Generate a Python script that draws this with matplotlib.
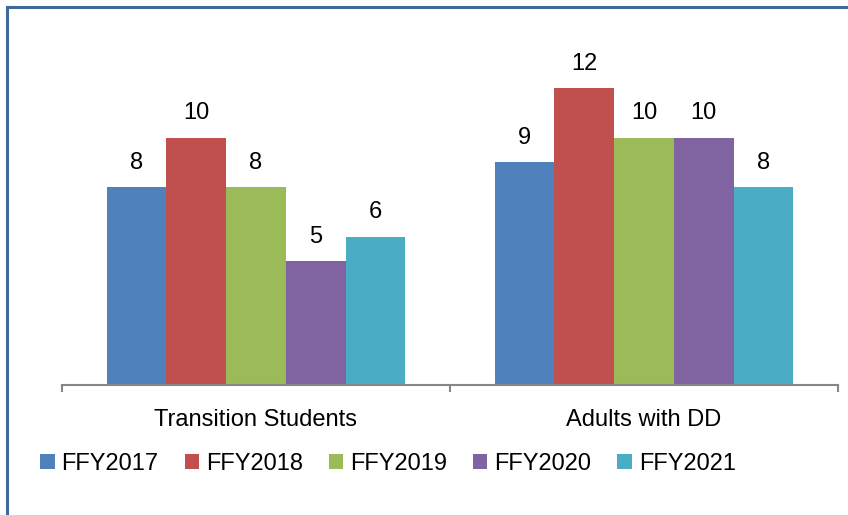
import matplotlib
matplotlib.use("Agg")
import matplotlib.pyplot as plt
from matplotlib.patches import Patch
from matplotlib.lines import Line2D
import numpy as np

plt.rcParams['font.family'] = ['Liberation Sans', 'DejaVu Sans']

categories = ["Transition Students", "Adults with DD"]
years = ["FFY2017", "FFY2018", "FFY2019", "FFY2020", "FFY2021"]
values = {
    "FFY2017": [8, 9],
    "FFY2018": [10, 12],
    "FFY2019": [8, 10],
    "FFY2020": [5, 10],
    "FFY2021": [6, 8],
}
colors = ["#4F81BD", "#C0504D", "#9BBB59", "#8064A2", "#4BACC6"]

fig = plt.figure(figsize=(8.48, 5.15), dpi=100)
ax = fig.add_axes([62 / 848, 1 - 385 / 515, 776 / 848, 346.5 / 515])

x = np.arange(len(categories))
w = 0.154
for i, yr in enumerate(years):
    pos = x + (i - 2) * w
    bars = ax.bar(pos, values[yr], width=w, color=colors[i])
    for xp, v in zip(pos, values[yr]):
        ax.annotate(str(v), (xp, v), xytext=(0, 13), textcoords="offset points",
                    ha="center", va="baseline", fontsize=17)

ax.set_xlim(-0.5, 1.5)
ax.set_ylim(0, 14)
for s in ["left", "right", "top"]:
    ax.spines[s].set_visible(False)
ax.spines["bottom"].set_color("#868686")
ax.spines["bottom"].set_linewidth(1.5)
ax.set_yticks([])
ax.set_xticks([-0.5, 0.5, 1.5])
ax.set_xticklabels([])
ax.tick_params(axis="x", which="major", length=5, width=1.5, color="#868686", direction="out")
ax.set_xticks(x, minor=True)
ax.set_xticklabels(categories, minor=True, fontsize=17)
ax.tick_params(axis="x", which="minor", length=0, pad=17)

handles = [Patch(facecolor=c, edgecolor="none") for c in colors]
fig.legend(handles, years, loc="center", bbox_to_anchor=(388 / 848, 1 - 464 / 515),
           ncol=5, frameon=False, fontsize=17, handlelength=0.6, handleheight=0.6,
           handletextpad=0.3, columnspacing=1.1, borderpad=0, borderaxespad=0)

# outer frame (only left and top edges visible)
fig.add_artist(Line2D([7 / 848, 7 / 848], [0, 1 - 7 / 515], transform=fig.transFigure,
                      color="#41699C", lw=2.2))
fig.add_artist(Line2D([7 / 848, 1], [1 - 7 / 515, 1 - 7 / 515], transform=fig.transFigure,
                      color="#41699C", lw=2.2))

fig.savefig("out.png", dpi=100)
